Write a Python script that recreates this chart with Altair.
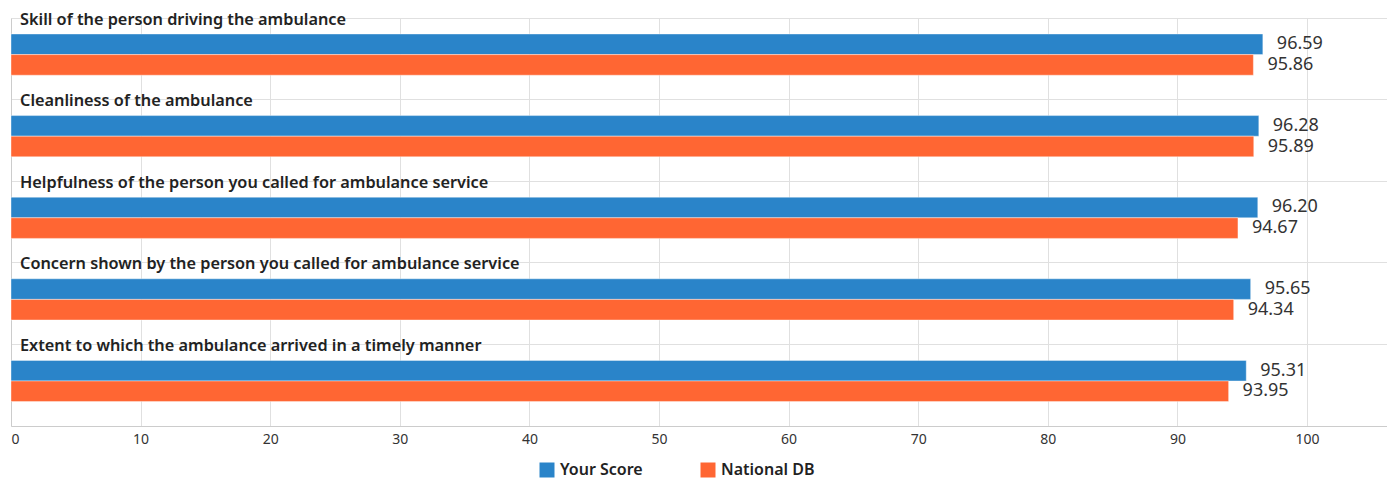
import altair as alt
import pandas as pd

categories = [
    "Skill of the person driving the ambulance",
    "Cleanliness of the ambulance",
    "Helpfulness of the person you called for ambulance service",
    "Concern shown by the person you called for ambulance service",
    "Extent to which the ambulance arrived in a timely manner",
]
series = ["Your Score", "National DB"]
your_score = [96.59, 96.28, 96.20, 95.65, 95.31]
national_db = [95.86, 95.89, 94.67, 94.34, 93.95]
x_ticks = [0, 10, 20, 30, 40, 50, 60, 70, 80, 90, 100]
colors = ["#2A84C9", "#FF6633"]

rows = []
for c, a, b in zip(categories, your_score, national_db):
    rows.append({"category": c, "series": series[0], "value": a, "label": f"{a:.2f}"})
    rows.append({"category": c, "series": series[1], "value": b, "label": f"{b:.2f}"})
df = pd.DataFrame(rows)
cat_df = pd.DataFrame({"category": categories})

FONT = "Noto Sans"

x_scale = alt.Scale(domain=[0, 106.17], nice=False, zero=True)
y_scale = alt.Scale(domain=categories, paddingInner=0, paddingOuter=0)
yoff_scale = alt.Scale(domain=series, paddingInner=0, paddingOuter=0.98, align=0.396)

base = alt.Chart(df)

bars = base.mark_bar(stroke="white", strokeOpacity=0.4, strokeWidth=1).encode(
    x=alt.X("value:Q", scale=x_scale,
            axis=alt.Axis(values=x_ticks, title=None, grid=True, ticks=False,
                          labelPadding=6, labelFontSize=14, labelColor="#333333",
                          labelFont=FONT, domainColor="#cccccc", gridColor="#e0e0e0")),
    y=alt.Y("category:N", scale=y_scale, sort=categories,
            axis=alt.Axis(title=None, labels=False, ticks=False, grid=True,
                          bandPosition=0, gridColor="#e0e0e0", domainColor="#cccccc")),
    yOffset=alt.YOffset("series:N", scale=yoff_scale, sort=series),
    color=alt.Color("series:N", scale=alt.Scale(domain=series, range=colors),
                    sort=series,
                    legend=alt.Legend(title=None, orient="none", direction="horizontal",
                                      legendX=528, legendY=444, symbolType="square",
                                      symbolSize=225, symbolStrokeWidth=0,
                                      labelFontSize=16, labelFont=FONT, labelFontWeight=600,
                                      labelColor="#222222", columnPadding=57,
                                      labelOffset=5, padding=0)),
)

values = base.mark_text(align="left", baseline="middle", dx=14, fontSize=18,
                        font=FONT, color="#333333").encode(
    x=alt.X("value:Q", scale=x_scale),
    y=alt.Y("category:N", scale=y_scale, sort=categories),
    yOffset=alt.YOffset("series:N", scale=yoff_scale, sort=series),
    text="label:N",
)

cat_labels = alt.Chart(cat_df).mark_text(align="left", baseline="alphabetic", dx=9, dy=6.5,
                                         fontSize=16.3, fontWeight=600, font=FONT,
                                         color="#222222").encode(
    x=alt.value(0),
    y=alt.Y("category:N", scale=y_scale, sort=categories, bandPosition=0),
    text="category:N",
)

chart = alt.layer(bars, values, cat_labels).properties(
    width=1376, height=408,
    autosize=alt.AutoSizeParams(type="none"),
    padding={"left": 3, "top": 10, "right": 0, "bottom": 55},
).configure_view(stroke=None)

chart.save("out.html", embed_options={"renderer": "svg", "actions": False})
